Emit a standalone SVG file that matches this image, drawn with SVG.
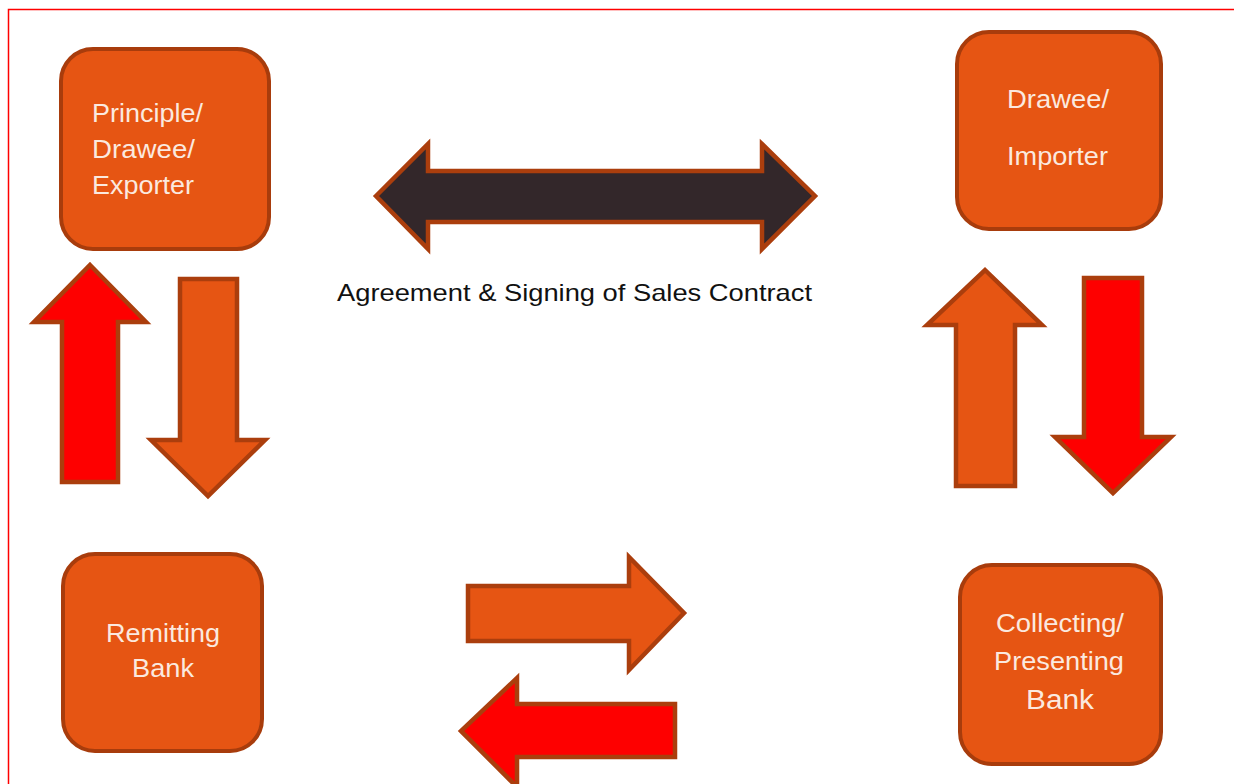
<svg xmlns="http://www.w3.org/2000/svg" width="1234" height="784" viewBox="0 0 1234 784">
<style>
.node{fill:#e65513;stroke:#a83c0c;stroke-width:4}
.lbl{font-family:"Liberation Sans",Arial,sans-serif;font-size:25px;fill:#fbe9df}
.arr{stroke:#ab3e0d;stroke-width:4.5;stroke-linejoin:miter}
.or{fill:#e65513}
.rd{fill:#fe0000}
.dk{fill:#33272a}
.cap{font-family:"Liberation Sans",Arial,sans-serif;font-size:24px;fill:#111}
</style>
<rect x="0" y="0" width="1234" height="784" fill="#fff"/>
<path d="M8.5 784 V9.5 H1234" fill="none" stroke="#f00" stroke-width="1.5"/>
<g id="exporter">
<rect class="node" x="61" y="49" width="208" height="200" rx="32"/>
<text class="lbl" x="92" y="122" textLength="111" lengthAdjust="spacingAndGlyphs">Principle/</text>
<text class="lbl" x="92" y="158" textLength="103" lengthAdjust="spacingAndGlyphs">Drawee/</text>
<text class="lbl" x="92" y="194" textLength="102" lengthAdjust="spacingAndGlyphs">Exporter</text>
</g>
<g id="importer">
<rect class="node" x="957" y="32" width="204" height="197" rx="32"/>
<text class="lbl" x="1007" y="108" textLength="102" lengthAdjust="spacingAndGlyphs">Drawee/</text>
<text class="lbl" x="1007" y="165" textLength="101" lengthAdjust="spacingAndGlyphs">Importer</text>
</g>
<g id="remitting">
<rect class="node" x="63" y="554" width="199" height="197" rx="32"/>
<text class="lbl" x="106" y="642" textLength="114" lengthAdjust="spacingAndGlyphs">Remitting</text>
<text class="lbl" x="132" y="677" textLength="62" lengthAdjust="spacingAndGlyphs">Bank</text>
</g>
<g id="collecting">
<rect class="node" x="960" y="565" width="201" height="199" rx="32"/>
<text class="lbl" x="996" y="632" textLength="128" lengthAdjust="spacingAndGlyphs">Collecting/</text>
<text class="lbl" x="994" y="670" textLength="130" lengthAdjust="spacingAndGlyphs">Presenting</text>
<text class="lbl" x="1026" y="709" textLength="68" lengthAdjust="spacingAndGlyphs" style="font-size:27px">Bank</text>
</g>
<g id="connectors">
<polygon class="arr dk" points="376,196 428,144 428,171 762,171 762,144 815,196 762,249 762,222 428,222 428,249"/>
<polygon class="arr rd" points="90,265 146,322 118,322 118,482 62,482 62,322 34,322"/>
<polygon class="arr or" points="180,279 237,279 237,440 265,440 208,496 151,440 180,440"/>
<polygon class="arr or" points="985,270 1042,325 1015,325 1015,486 956,486 956,325 927,325"/>
<polygon class="arr rd" points="1084,278 1142,278 1142,437 1171,437 1113,493 1055,437 1084,437"/>
<polygon class="arr or" points="468,586 629,586 629,557 684,613 629,670 629,641 468,641"/>
<polygon class="arr rd" points="675,704 675,757 517,757 517,787 461,731 517,678 517,704"/>
</g>
<text class="cap" x="337" y="301" textLength="475" lengthAdjust="spacingAndGlyphs">Agreement &amp; Signing of Sales Contract</text>
</svg>
